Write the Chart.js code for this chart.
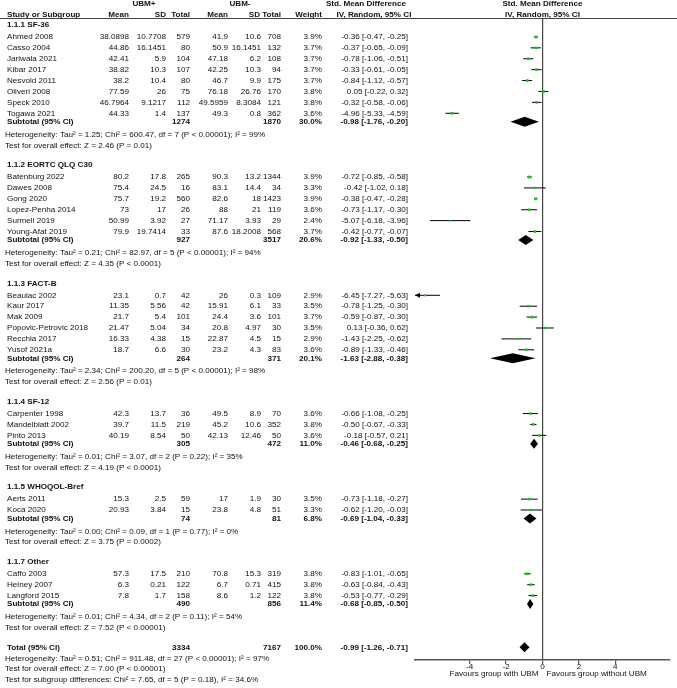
<!DOCTYPE html>
<html>
<head>
<meta charset="utf-8">
<script src="https://cdn.jsdelivr.net/npm/chart.js@4.4.1/dist/chart.umd.min.js"></script>
<style>
  html, body { margin: 0; padding: 0; background: #fff; }
  canvas { display: block; }
</style>
</head>
<body>
<canvas id="forest" width="677" height="688"></canvas>
<script>
// Sous-groupes
const groupNames = ["1.1.1 SF-36", "1.1.2 EORTC QLQ C30", "1.1.3 FACT-B", "1.1.4 SF-12", "1.1.5 WHOQOL-Bref", "1.1.7 Other"];

// Etudes
const studyNames = [
  "Ahmed 2008", "Casso 2004", "Jariwala 2021", "Kibar 2017", "Nesvold 2011", "Oliveri 2008", "Speck 2010", "Togawa 2021",
  "Batenburg 2022", "Dawes 2008", "Gong 2020", "Lopez-Penha 2014", "Surmeli 2019", "Young-Afat 2019",
  "Beaulac 2002", "Kaur 2017", "Mak 2009", "Popovic-Petrovic 2018", "Recchia 2017", "Yusof 2021a",
  "Carpenter 1998", "Mandelblatt 2002", "Pinto 2013",
  "Aerts 2011", "Koca 2020",
  "Caffo 2003", "Heiney 2007", "Langford 2015"
];
const studyGroup = [0, 0, 0, 0, 0, 0, 0, 0, 1, 1, 1, 1, 1, 1, 2, 2, 2, 2, 2, 2, 3, 3, 3, 4, 4, 5, 5, 5];

// UBM+
const meanPlus = [38.0898, 44.86, 42.41, 38.82, 38.2, 77.59, 46.7964, 44.33, 80.2, 75.4, 75.7, 73, 50.99, 79.9, 23.1, 11.35, 21.7, 21.47, 16.33, 18.7, 42.3, 39.7, 40.19, 15.3, 20.93, 57.3, 6.3, 7.8];
const sdPlus = [10.7708, 16.1451, 5.9, 10.3, 10.4, 26, 9.1217, 1.4, 17.8, 24.5, 19.2, 17, 3.92, 19.7414, 0.7, 5.56, 5.4, 5.04, 4.38, 6.6, 13.7, 11.5, 8.54, 2.5, 3.84, 17.5, 0.21, 1.7];
const nPlus = [579, 80, 104, 107, 80, 75, 112, 137, 265, 16, 560, 26, 27, 33, 42, 42, 101, 34, 15, 30, 36, 219, 50, 59, 15, 210, 122, 158];

// UBM-
const meanMinus = [41.9, 50.9, 47.18, 42.25, 46.7, 76.18, 49.5959, 49.3, 90.3, 83.1, 82.6, 88, 71.17, 87.6, 26, 15.91, 24.4, 20.8, 22.87, 23.2, 49.5, 45.2, 42.13, 17, 23.8, 70.8, 6.7, 8.6];
const sdMinus = [10.6, 16.1451, 6.2, 10.3, 9.9, 26.76, 8.3084, 0.8, 13.2, 14.4, 18, 21, 3.93, 18.2008, 0.3, 6.1, 3.6, 4.97, 4.5, 4.3, 8.9, 10.6, 12.46, 1.9, 4.8, 15.3, 0.71, 1.2];
const nMinus = [708, 132, 108, 94, 175, 170, 121, 362, 1344, 34, 1423, 119, 29, 568, 109, 33, 101, 30, 15, 83, 70, 352, 50, 30, 51, 319, 415, 122];

// Poids et SMD
const weights = [3.9, 3.7, 3.7, 3.7, 3.7, 3.8, 3.8, 3.6, 3.9, 3.3, 3.9, 3.6, 2.4, 3.7, 2.9, 3.5, 3.7, 3.5, 2.9, 3.6, 3.6, 3.8, 3.6, 3.5, 3.3, 3.8, 3.8, 3.8];
const smd = [-0.36, -0.37, -0.78, -0.33, -0.84, 0.05, -0.32, -4.96, -0.72, -0.42, -0.38, -0.73, -5.07, -0.42, -6.45, -0.78, -0.59, 0.13, -1.43, -0.89, -0.66, -0.50, -0.18, -0.73, -0.62, -0.83, -0.63, -0.53];
const ciLow = [-0.47, -0.65, -1.06, -0.61, -1.12, -0.22, -0.58, -5.33, -0.85, -1.02, -0.47, -1.17, -6.18, -0.77, -7.27, -1.25, -0.87, -0.36, -2.25, -1.33, -1.08, -0.67, -0.57, -1.18, -1.20, -1.01, -0.84, -0.77];
const ciHigh = [-0.25, -0.09, -0.51, -0.05, -0.57, 0.32, -0.06, -4.59, -0.58, 0.18, -0.28, -0.30, -3.96, -0.07, -5.63, -0.30, -0.30, 0.62, -0.62, -0.46, -0.25, -0.33, 0.21, -0.27, -0.03, -0.65, -0.43, -0.29];

// Sous-totaux
const subNPlus = [1274, 927, 264, 305, 74, 490];
const subNMinus = [1870, 3517, 371, 472, 81, 856];
const subWeight = [30.0, 20.6, 20.1, 11.0, 6.8, 11.4];
const subSmd = [-0.98, -0.92, -1.63, -0.46, -0.69, -0.68];
const subLow = [-1.76, -1.33, -2.88, -0.68, -1.04, -0.85];
const subHigh = [-0.20, -0.50, -0.38, -0.25, -0.33, -0.50];
const hetTau2 = [1.25, 0.21, 2.34, 0.01, 0.00, 0.01];
const hetChi2 = [600.47, 82.97, 200.20, 3.07, 0.09, 4.34];
const hetDf = [7, 5, 5, 2, 1, 2];
const hetP = ["< 0.00001", "< 0.00001", "< 0.00001", "= 0.22", "= 0.77", "= 0.11"];
const hetI2 = [99, 94, 98, 35, 0, 54];
const effZ = [2.46, 4.35, 2.56, 4.19, 3.75, 7.52];
const effP = ["= 0.01", "< 0.0001", "= 0.01", "< 0.0001", "= 0.0002", "< 0.00001"];

// Total
const totalN = [3334, 7167];
const totalWeight = 100.0;
const totalEst = [-0.99, -1.26, -0.71];
const totalHet = [0.51, 911.48, 27, "< 0.00001", 97];
const totalEff = [7.00, "< 0.00001"];
const subgroupTest = [7.65, 5, "= 0.18", "34.6"];

// Axe
const xTicks = [-4, -2, 0, 2, 4];
const xMin = -7, xMax = 7;

// Disposition des lignes (en unites de ligne)
const ROW = 10.9;
let cur = 0.64;
const groupRow = [], studyRow = [], subRow = [], hetRow = [], effRow = [];
groupNames.forEach((g, gi) => {
  groupRow[gi] = cur;
  cur += 1.1;
  studyNames.forEach((s, i) => {
    if (studyGroup[i] === gi) { studyRow[i] = cur; cur += 1; }
  });
  cur -= 1;
  subRow[gi] = cur + 0.78;
  hetRow[gi] = subRow[gi] + 1.17;
  effRow[gi] = hetRow[gi] + 1.0;
  cur = effRow[gi] + 1.8;
});
const totalRow = cur;

const FONT = '"Liberation Sans", Arial, sans-serif';
const SIZE = 8.1;
const TXT = "#111";

const ciData = [];
studyNames.forEach((s, i) => {
  ciData.push({ x: ciLow[i], y: studyRow[i] });
  ciData.push({ x: ciHigh[i], y: studyRow[i] });
  ciData.push({ x: null, y: null });
});
const pointData = studyNames.map((s, i) => ({ x: smd[i], y: studyRow[i] }));

const diamonds = groupNames.map((g, gi) => [subLow[gi], subSmd[gi], subHigh[gi], subRow[gi]]);
diamonds.push([totalEst[1], totalEst[0], totalEst[2], totalRow]);

const fmtCi = (e, l, h) => e.toFixed(2) + " [" + l.toFixed(2) + ", " + h.toFixed(2) + "]";

// Plugin : texte du tableau, losanges, fleches
const forestPlugin = {
  id: "forestTable",
  afterDatasetsDraw: (chart) => {
    const { ctx, scales: { x, y } } = chart;
    ctx.save();
    ctx.fillStyle = "#000";
    diamonds.forEach(([l, e, h, r]) => {
      const py = y.getPixelForValue(r);
      ctx.beginPath();
      ctx.moveTo(x.getPixelForValue(l), py);
      ctx.lineTo(x.getPixelForValue(e), py - 5);
      ctx.lineTo(x.getPixelForValue(h), py);
      ctx.lineTo(x.getPixelForValue(e), py + 5);
      ctx.closePath();
      ctx.fill();
    });
    // fleche si l'IC sort de l'axe
    studyNames.forEach((s, i) => {
      if (ciLow[i] < xMin) {
        const px = x.getPixelForValue(xMin), py = y.getPixelForValue(studyRow[i]);
        ctx.beginPath();
        ctx.moveTo(px, py);
        ctx.lineTo(px + 5, py - 2.5);
        ctx.lineTo(px + 5, py + 2.5);
        ctx.closePath();
        ctx.fill();
      }
    });
    ctx.restore();
  },
  afterDraw: (chart) => {
    const { ctx, width, scales: { x, y } } = chart;
    const Y = (r) => y.getPixelForValue(r);
    const txt = (s, px, py, align, bold) => {
      ctx.font = (bold ? "bold " : "") + SIZE + "px " + FONT;
      ctx.textAlign = align;
      ctx.fillText(s, px, py);
    };
    const col = { m1: 129, s1: 166, n1: 190, m2: 228, s2: 261, n2: 281, w: 322, ci: 408 };
    const zero = x.getPixelForValue(0);
    ctx.save();
    ctx.fillStyle = TXT;
    ctx.textBaseline = "middle";

    // en-tetes
    txt("UBM+", 144, 4, "center", true);
    txt("UBM-", 240, 4, "center", true);
    txt("Std. Mean Difference", 366, 4, "center", true);
    txt("Std. Mean Difference", zero, 4, "center", true);
    txt("Study or Subgroup", 7, 14.5, "left", true);
    txt("Mean", col.m1, 14.5, "right", true);
    txt("SD", col.s1, 14.5, "right", true);
    txt("Total", col.n1, 14.5, "right", true);
    txt("Mean", col.m2, 14.5, "right", true);
    txt("SD", col.s2 - 1, 14.5, "right", true);
    txt("Total", col.n2, 14.5, "right", true);
    txt("Weight", col.w, 14.5, "right", true);
    txt("IV, Random, 95% CI", 374, 14.5, "center", true);
    txt("IV, Random, 95% CI", zero, 14.5, "center", true);
    ctx.strokeStyle = "#444";
    ctx.lineWidth = 1;
    ctx.beginPath();
    ctx.moveTo(0, 18.5);
    ctx.lineTo(width, 18.5);
    ctx.stroke();

    groupNames.forEach((g, gi) => {
      txt(g, 7, Y(groupRow[gi]), "left", true);
      studyNames.forEach((s, i) => {
        if (studyGroup[i] !== gi) return;
        const py = Y(studyRow[i]);
        txt(s, 7, py, "left");
        txt(String(meanPlus[i]), col.m1, py, "right");
        txt(String(sdPlus[i]), col.s1, py, "right");
        txt(String(nPlus[i]), col.n1, py, "right");
        txt(String(meanMinus[i]), col.m2, py, "right");
        txt(String(sdMinus[i]), col.s2, py, "right");
        txt(String(nMinus[i]), col.n2, py, "right");
        txt(weights[i].toFixed(1) + "%", col.w, py, "right");
        txt(fmtCi(smd[i], ciLow[i], ciHigh[i]), col.ci, py, "right");
      });
      const sy = Y(subRow[gi]);
      txt("Subtotal (95% CI)", 7, sy, "left", true);
      txt(String(subNPlus[gi]), col.n1, sy, "right", true);
      txt(String(subNMinus[gi]), col.n2, sy, "right", true);
      txt(subWeight[gi].toFixed(1) + "%", col.w, sy, "right", true);
      txt(fmtCi(subSmd[gi], subLow[gi], subHigh[gi]), col.ci, sy, "right", true);
      txt("Heterogeneity: Tau\u00b2 = " + hetTau2[gi].toFixed(2) + "; Chi\u00b2 = " + hetChi2[gi].toFixed(2) +
        ", df = " + hetDf[gi] + " (P " + hetP[gi] + "); I\u00b2 = " + hetI2[gi] + "%", 5, Y(hetRow[gi]), "left");
      txt("Test for overall effect: Z = " + effZ[gi].toFixed(2) + " (P " + effP[gi] + ")", 5, Y(effRow[gi]), "left");
    });

    const ty = Y(totalRow);
    txt("Total (95% CI)", 7, ty, "left", true);
    txt(String(totalN[0]), col.n1, ty, "right", true);
    txt(String(totalN[1]), col.n2, ty, "right", true);
    txt(totalWeight.toFixed(1) + "%", col.w, ty, "right", true);
    txt(fmtCi(totalEst[0], totalEst[1], totalEst[2]), col.ci, ty, "right", true);
    txt("Heterogeneity: Tau\u00b2 = " + totalHet[0].toFixed(2) + "; Chi\u00b2 = " + totalHet[1].toFixed(2) +
      ", df = " + totalHet[2] + " (P " + totalHet[3] + "); I\u00b2 = " + totalHet[4] + "%", 5, Y(totalRow + 1), "left");
    txt("Test for overall effect: Z = " + totalEff[0].toFixed(2) + " (P " + totalEff[1] + ")", 5, Y(totalRow + 2), "left");
    txt("Test for subgroup differences: Chi\u00b2 = " + subgroupTest[0].toFixed(2) + ", df = " + subgroupTest[1] +
      " (P " + subgroupTest[2] + "), I\u00b2 = " + subgroupTest[3] + "%", 5, Y(totalRow + 3), "left");

    txt("Favours group with UBM", zero - 4, 673.5, "right");
    txt("Favours group without UBM", zero + 4, 673.5, "left");
    ctx.restore();
  },
};

const chart = new Chart(document.getElementById("forest").getContext("2d"), {
  type: "scatter",
  data: {
    datasets: [
      {
        label: "SMD",
        data: pointData,
        pointStyle: "rect",
        pointRadius: (c) => weights[c.dataIndex] * 0.5,
        pointBackgroundColor: "#22c022",
        pointBorderWidth: 0,
        order: 0,
      },
      {
        label: "IC 95%",
        data: ciData,
        showLine: true,
        spanGaps: false,
        borderColor: "#000",
        borderWidth: 1,
        pointRadius: 0,
        order: 1,
      },
    ],
  },
  options: {
    responsive: false,
    animation: false,
    devicePixelRatio: 1,
    layout: { padding: { left: 415, right: 7, top: 18, bottom: 16 } },
    plugins: { legend: { display: false }, tooltip: { enabled: false } },
    scales: {
      x: {
        type: "linear",
        min: xMin,
        max: xMax,
        afterBuildTicks: (scale) => { scale.ticks = xTicks.map((v) => ({ value: v })); },
        afterFit: (scale) => { scale.height = 12; },
        grid: {
          color: (c) => (c.tick && c.tick.value === 0 ? "#444" : "rgba(0,0,0,0)"),
          lineWidth: 1.2,
          tickColor: "#555",
          tickLength: 4,
        },
        border: { display: true, color: "#555", width: 1.5 },
        ticks: {
          padding: -2,
          color: TXT,
          font: { family: FONT, size: SIZE },
          callback: (v) => String(v),
        },
      },
      y: {
        type: "linear",
        display: false,
        reverse: true,
        min: 0,
        max: 642 / ROW,
      },
    },
  },
  plugins: [forestPlugin],
});
</script>
</body>
</html>
